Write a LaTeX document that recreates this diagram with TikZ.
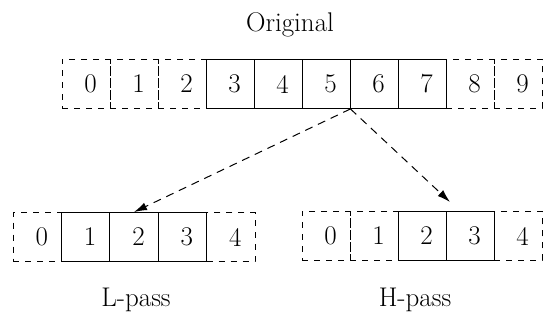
\documentclass[tikz,border=0pt]{standalone}
\usetikzlibrary{arrows.meta}
\begin{document}
\begin{tikzpicture}[x=1pt,y=-1pt,
  txt/.style={font=\fontsize{27}{27}\selectfont},
  cellbase/.style={minimum width=48pt, minimum height=49pt, inner sep=0pt, txt, line width=0.9pt},
  dcell/.style={cellbase, draw, dash pattern=on 6pt off 6pt},
  scell/.style={cellbase, draw},
  link/.style={line width=1pt, dash pattern=on 8pt off 6pt, -{Latex[length=13pt,width=8pt]}}]
\useasboundingbox (0,0) rectangle (544,323);
% top row
\foreach \i in {0,1,2,8,9} {
  \node[dcell] (t\i) at ({86+48*\i},84) {\hspace*{9pt}\i};
}
\foreach \i in {3,...,7} {
  \node[scell] (t\i) at ({86+48*\i},84) {\hspace*{9pt}\i};
}
% L row
\foreach \i in {0,4} {
  \node[dcell, minimum width=48.4pt] (l\i) at ({37.2+48.4*\i},237) {\hspace*{9pt}\i};
}
\foreach \i in {1,2,3} {
  \node[scell, minimum width=48.4pt] (l\i) at ({37.2+48.4*\i},237) {\hspace*{9pt}\i};
}
% H row
\foreach \i in {0,1,4} {
  \node[dcell] (h\i) at ({326+48*\i},236) {\hspace*{9pt}\i};
}
\foreach \i in {2,3} {
  \node[scell] (h\i) at ({326+48*\i},236) {\hspace*{9pt}\i};
}
% labels
\node[txt] (orig) at (290,25) {Original};
\node[txt] (lpass) at (136,300) {L-pass};
\node[txt] (hpass) at (415,300) {H-pass};
% arrows
\coordinate (src) at (t5.south east);
\coordinate (htip) at (450,202);
\draw[link] (src) -- (l2.north);
\draw[link] (src) -- (htip);
\end{tikzpicture}
\end{document}
